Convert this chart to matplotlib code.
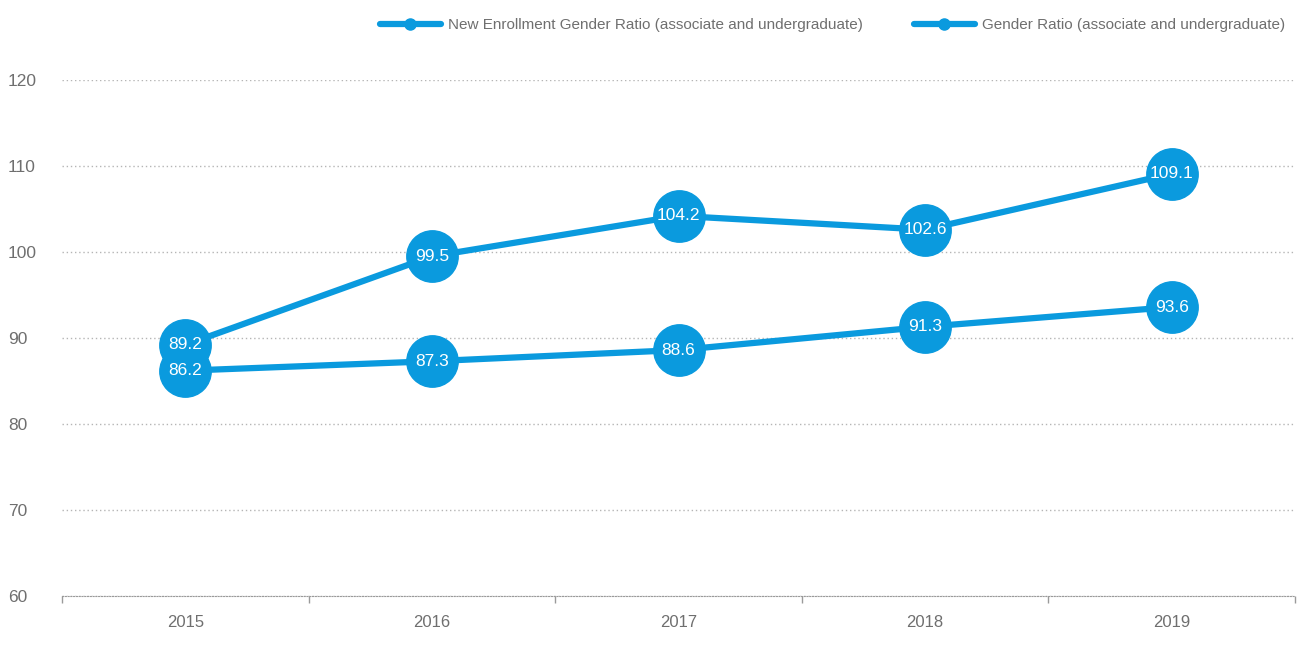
import matplotlib.pyplot as plt
from matplotlib import font_manager

#%% DATA

years = ["2015", "2016", "2017", "2018", "2019"]
new_enrollment = [89.2, 99.5, 104.2, 102.6, 109.1]
gender_ratio = [86.2, 87.3, 88.6, 91.3, 93.6]
labels = ["New Enrollment Gender Ratio (associate and undergraduate)",
          "Gender Ratio (associate and undergraduate)"]

BLUE = "#0a9ade"
GREY = "#6f6f6f"

names = {f.name for f in font_manager.fontManager.ttflist}
font = "Liberation Sans Narrow" if "Liberation Sans Narrow" in names else "Liberation Sans"
plt.rcParams["font.family"] = [font, "DejaVu Sans"]

#%% PLOT

fig = plt.figure(figsize=(12.97, 6.53), dpi=100)
ax = fig.add_axes([62/1297, 1-596/653, (1295-62)/1297, (596-80)/653])

x = list(range(len(years)))
for series, label in zip([new_enrollment, gender_ratio], labels):
    ax.plot(x, series, color=BLUE, lw=4.5, marker="o", ms=37,
            solid_capstyle="round", label=label, zorder=3)
for series in [new_enrollment, gender_ratio]:
    for xi, v in zip(x, series):
        ax.text(xi, v, f"{v:.1f}", color="white", fontsize=12.5,
                ha="center", va="center", zorder=5)

ax.set_xlim(-0.5, len(years) - 0.5)
ax.set_ylim(60, 120)
ax.set_yticks(range(60, 121, 10))
ax.set_xticks(x)
ax.set_xticklabels(years)
ax.set_xticks([i - 0.5 for i in range(len(years) + 1)], minor=True)

ax.grid(axis="y", color="#b5b5b5", ls=(0, (1, 2)), lw=1)
for s in ["top", "right", "left"]:
    ax.spines[s].set_visible(False)
ax.spines["bottom"].set_color("#9a9a9a")
ax.spines["bottom"].set_linestyle((0, (1, 1.5)))
# y labels left-aligned near the figure edge
ax.tick_params(axis="y", length=0, pad=39, labelcolor=GREY, labelsize=12.5)
for lab in ax.get_yticklabels():
    lab.set_horizontalalignment("left")
ax.tick_params(axis="x", which="major", length=0, pad=14, labelcolor=GREY, labelsize=12)
ax.tick_params(axis="x", which="minor", length=5, color="#9a9a9a", width=1)
for t in ax.xaxis.get_minorticklines():
    t.set_linestyle((0, (1, 1)))

handles, lbls = ax.get_legend_handles_labels()
legend_handles = [plt.Line2D([], [], color=BLUE, lw=4.5, marker="o", ms=8,
                             solid_capstyle="round") for _ in handles]
fig.legend(legend_handles, lbls, loc="upper right", bbox_to_anchor=(1.0, 0.99),
           ncol=2, frameon=False, fontsize=11, labelcolor=GREY,
           handlelength=4.0, handletextpad=0.5, columnspacing=3.3,
           borderaxespad=0.35)

fig.savefig("out.png", dpi=100)
